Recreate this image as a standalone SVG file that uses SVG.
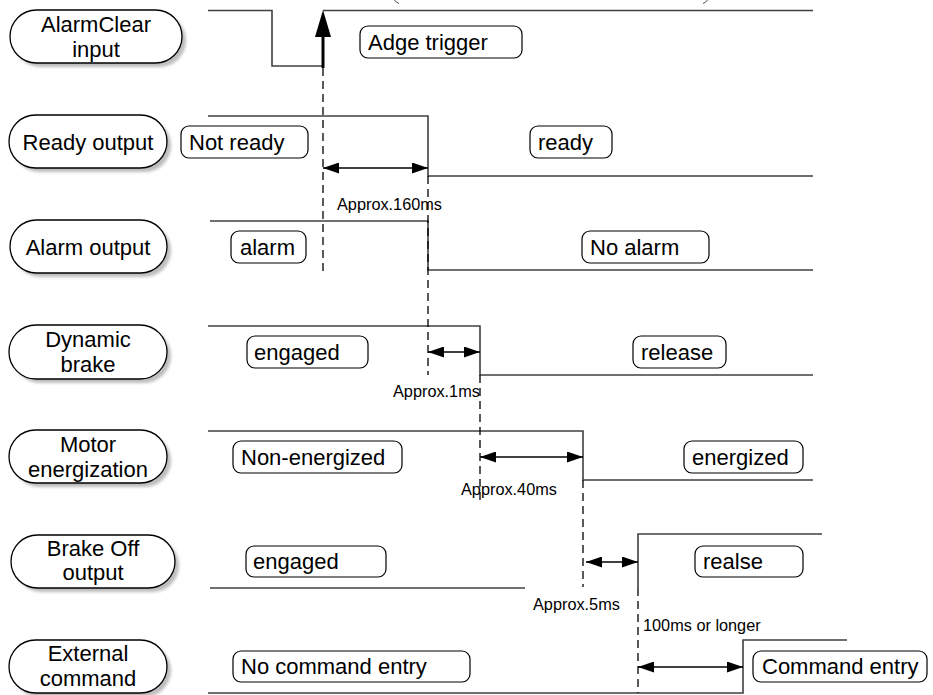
<svg xmlns="http://www.w3.org/2000/svg" width="933" height="695" viewBox="0 0 933 695">
<style>
.pill{fill:#fff;stroke:#000;stroke-width:1.3}
.shadow{fill:#bdbdbd}
.lbl{font-family:"Liberation Sans",Arial,sans-serif;font-size:22px;fill:#000}
.plbl{font-family:"Liberation Sans",Arial,sans-serif;font-size:22px;fill:#000;text-anchor:middle}
.state{fill:#fff;stroke:#000;stroke-width:1.2}
.sig{fill:none;stroke:#404040;stroke-width:1.6}
.dash{fill:none;stroke:#000;stroke-width:1.3;stroke-dasharray:8,5}
.meas{fill:none;stroke:#000;stroke-width:1.5;marker-start:url(#ah);marker-end:url(#ah)}
.small{font-family:"Liberation Sans",Arial,sans-serif;font-size:16.3px;fill:#000}
</style>
<defs>
<filter id="blur" x="-10%" y="-20%" width="120%" height="140%"><feGaussianBlur stdDeviation="1.5"/></filter>
<marker id="ah" viewBox="0 0 16 11" refX="16" refY="5.5" markerWidth="16" markerHeight="11" markerUnits="userSpaceOnUse" orient="auto-start-reverse">
<path d="M0,0 L16,5.5 L0,11 Z" fill="#000"/>
</marker>
</defs>
<rect width="933" height="695" fill="#fff"/>

<g id="pill-alarmclear">
<rect class="shadow" filter="url(#blur)" x="14" y="14" width="172" height="53" rx="26.5"/>
<rect class="pill" x="10" y="10" width="172" height="53" rx="26.5"/>
<text class="plbl" x="96" y="32">AlarmClear</text>
<text class="plbl" x="96" y="57">input</text>
</g>
<g id="pill-ready">
<rect class="shadow" filter="url(#blur)" x="13" y="119" width="158" height="53" rx="26.5"/>
<rect class="pill" x="9" y="115" width="158" height="53" rx="26.5"/>
<text class="plbl" x="88" y="150">Ready output</text>
</g>
<g id="pill-alarm">
<rect class="shadow" filter="url(#blur)" x="14" y="224" width="157" height="53" rx="26.5"/>
<rect class="pill" x="10" y="220" width="157" height="53" rx="26.5"/>
<text class="plbl" x="88" y="255">Alarm output</text>
</g>
<g id="pill-dynamic">
<rect class="shadow" filter="url(#blur)" x="13" y="329" width="158" height="54" rx="27"/>
<rect class="pill" x="9" y="325" width="158" height="54" rx="27"/>
<text class="plbl" x="88" y="347">Dynamic</text>
<text class="plbl" x="88" y="372">brake</text>
</g>
<g id="pill-motor">
<rect class="shadow" filter="url(#blur)" x="13" y="434" width="158" height="53" rx="26.5"/>
<rect class="pill" x="9" y="430" width="158" height="53" rx="26.5"/>
<text class="plbl" x="88" y="452">Motor</text>
<text class="plbl" x="88" y="477">energization</text>
</g>
<g id="pill-brakeoff">
<rect class="shadow" filter="url(#blur)" x="15" y="539" width="164" height="53" rx="26.5"/>
<rect class="pill" x="11" y="535" width="164" height="53" rx="26.5"/>
<text class="plbl" x="93" y="556">Brake Off</text>
<text class="plbl" x="93" y="580">output</text>
</g>
<g id="pill-external">
<rect class="shadow" filter="url(#blur)" x="13" y="644" width="158" height="53" rx="26.5"/>
<rect class="pill" x="9" y="640" width="158" height="53" rx="26.5"/>
<text class="plbl" x="88" y="661">External</text>
<text class="plbl" x="88" y="686">command</text>
</g>

<g id="connectors">
<path d="M393,-2 Q395,2 399,3.5" fill="none" stroke="#555" stroke-width="1"/>
<path d="M703,3.5 Q707,2 709,-2" fill="none" stroke="#555" stroke-width="1"/>
<path class="sig" d="M208,10.5 H272 V66 H323"/>
<path class="sig" d="M323,10.5 H813" stroke-width="2"/>
<line x1="323" y1="68" x2="323" y2="35" stroke="#000" stroke-width="3"/>
<polygon points="315,37 331,37 323,10" fill="#000"/>
<path class="sig" d="M208,116 H428 V176 H813"/>
<path class="sig" d="M210,221 H428 V270 H813"/>
<path class="sig" d="M208,326 H480 V375 H813"/>
<path class="sig" d="M208,431 H583 V480 H813"/>
<path class="sig" d="M210,588 H525"/>
<path class="sig" d="M638,588 V534 H822"/>
<path class="sig" d="M208,693 H743 V640 H847"/>
<line class="dash" x1="323" y1="68" x2="323" y2="273"/>
<line class="dash" x1="428" y1="176" x2="428" y2="375"/>
<line class="dash" x1="480" y1="375" x2="480" y2="502"/>
<line class="dash" x1="583" y1="480" x2="583" y2="587"/>
<line class="dash" x1="638" y1="588" x2="638" y2="693"/>
<line class="meas" x1="323" y1="168" x2="428" y2="168"/>
<line class="meas" x1="428" y1="352" x2="480" y2="352"/>
<line class="meas" x1="480" y1="457" x2="583" y2="457"/>
<line class="meas" x1="586" y1="562" x2="638" y2="562"/>
<line class="meas" x1="638" y1="667" x2="743" y2="667"/>
<text class="small" x="337" y="210">Approx.160ms</text>
<text class="small" x="393" y="397">Approx.1ms</text>
<text class="small" x="461" y="495">Approx.40ms</text>
<text class="small" x="533" y="610">Approx.5ms</text>
<text class="small" x="643" y="631">100ms or longer</text>
</g>

<g id="state-adge"><rect class="state" x="360" y="26" width="162" height="32" rx="8"/><text class="lbl" x="368" y="50">Adge trigger</text></g>
<g id="state-notready"><rect class="state" x="181" y="126" width="127" height="32" rx="8"/><text class="lbl" x="189" y="150">Not ready</text></g>
<g id="state-ready"><rect class="state" x="530" y="126" width="82" height="32" rx="8"/><text class="lbl" x="538" y="150">ready</text></g>
<g id="state-alarm"><rect class="state" x="231" y="231" width="75" height="32" rx="8"/><text class="lbl" x="240" y="255">alarm</text></g>
<g id="state-noalarm"><rect class="state" x="582" y="231" width="127" height="32" rx="8"/><text class="lbl" x="590" y="255">No alarm</text></g>
<g id="state-engaged1"><rect class="state" x="247" y="336" width="121" height="32" rx="8"/><text class="lbl" x="254" y="360">engaged</text></g>
<g id="state-release"><rect class="state" x="633" y="336" width="93" height="32" rx="8"/><text class="lbl" x="641" y="360">release</text></g>
<g id="state-nonenergized"><rect class="state" x="233" y="441" width="169" height="32" rx="8"/><text class="lbl" x="241" y="465">Non-energized</text></g>
<g id="state-energized"><rect class="state" x="684" y="441" width="119" height="32" rx="8"/><text class="lbl" x="692" y="465">energized</text></g>
<g id="state-engaged2"><rect class="state" x="246" y="546" width="140" height="31" rx="8"/><text class="lbl" x="253" y="569">engaged</text></g>
<g id="state-realse"><rect class="state" x="695" y="546" width="108" height="31" rx="8"/><text class="lbl" x="703" y="569">realse</text></g>
<g id="state-nocommand"><rect class="state" x="233" y="651" width="237" height="31" rx="8"/><text class="lbl" x="241" y="674">No command entry</text></g>
<g id="state-command"><rect class="state" x="753" y="651" width="174" height="31" rx="8"/><text class="lbl" x="762" y="674">Command entry</text></g>
</svg>
